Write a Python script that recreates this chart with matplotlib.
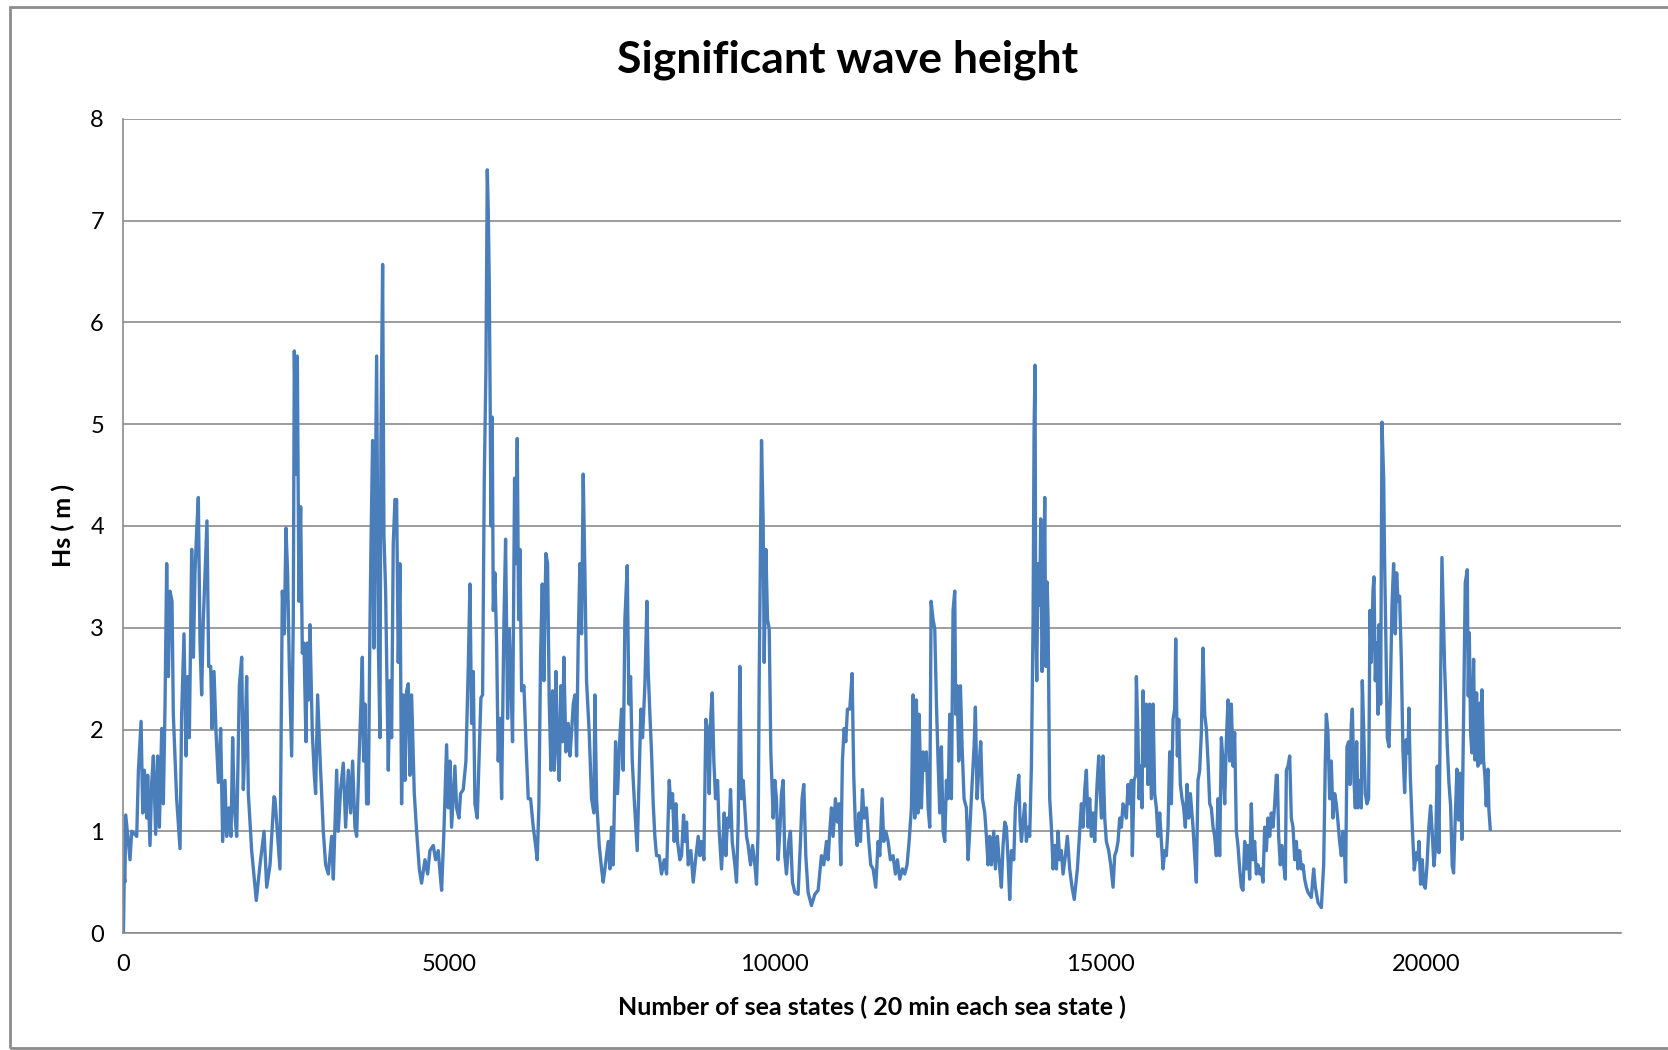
import matplotlib
matplotlib.use("Agg")
import matplotlib.pyplot as plt
from matplotlib.patches import Rectangle

plt.rcParams['font.family'] = ['Lato', 'DejaVu Sans']

# sea state index and significant wave height
x_pts = [
    0, 12, 22, 35, 101, 127, 204, 230, 271, 296, 321, 357, 372, 408, 434, 460, 495, 526, 552, 588,
    613, 639, 664, 690, 715, 746, 766, 817, 869, 894, 930, 961, 987, 1012, 1048, 1074, 1099, 1125, 1150, 1176,
    1201, 1227, 1258, 1283, 1309, 1340, 1360, 1391, 1422, 1458, 1493, 1524, 1560, 1585, 1621, 1652, 1677, 1703, 1739, 1780,
    1816, 1841, 1867, 1892, 1918, 1969, 2040, 2097, 2159, 2200, 2251, 2312,
    2327, 2404, 2440, 2470, 2496, 2521, 2547, 2583, 2608, 2624, 2649, 2670, 2695, 2721, 2747, 2772, 2803, 2823, 2839, 2864,
    2900, 2931, 2951, 2982, 3018, 3069, 3105, 3146, 3197, 3223, 3274, 3299, 3335, 3376, 3412, 3453, 3489, 3519, 3555, 3581,
    3617, 3647, 3668, 3688, 3709, 3734, 3760, 3785, 3801, 3826, 3847, 3862, 3888, 3914, 3939, 3954, 3980, 4000, 4026, 4067,
    4092, 4118, 4143, 4169, 4195, 4220, 4246, 4271, 4297, 4323, 4348, 4374, 4399, 4425, 4466, 4502, 4543, 4578, 4630, 4671,
    4706, 4758, 4793, 4834, 4870,
    4886, 4921, 4962, 4988, 5014, 5039, 5090, 5116, 5152, 5177, 5218, 5259, 5295, 5321, 5346, 5372, 5397, 5433, 5464, 5489,
    5515, 5541, 5566, 5587, 5602, 5617, 5633, 5643, 5663, 5679, 5704, 5730, 5755, 5781, 5807, 5842, 5868, 5899, 5924, 5950,
    5975, 6006, 6027, 6047, 6068, 6088, 6114, 6150, 6180, 6216, 6252, 6293, 6329, 6354, 6380, 6405, 6431, 6456, 6487, 6513,
    6538, 6564, 6590, 6615, 6641, 6666, 6692, 6717, 6743, 6763, 6794, 6830, 6856, 6881, 6907, 6932, 6958, 6984, 7009, 7035,
    7060, 7086, 7111, 7152, 7188, 7224, 7239, 7265, 7306, 7342, 7367,
    7393, 7444, 7470, 7495, 7521, 7557, 7587, 7623, 7649, 7674, 7700, 7736, 7761, 7787, 7813, 7843, 7889, 7920, 7946, 7971,
    8007, 8038, 8058, 8084, 8109, 8135, 8160, 8186, 8227, 8263, 8304, 8340, 8381, 8406, 8432, 8457, 8483, 8508, 8544, 8570,
    8601, 8621, 8647, 8672, 8713, 8749, 8785, 8826, 8851, 8877, 8913, 8943, 8969, 8995, 9020, 9041, 9066, 9092, 9123, 9148,
    9184, 9210, 9225, 9250, 9276, 9302, 9322, 9348, 9389, 9414, 9440, 9465, 9491, 9516, 9542, 9568, 9593, 9629, 9660, 9696,
    9721, 9747, 9762, 9783, 9798, 9823, 9839, 9865, 9890, 9916, 9941, 9977,
    10002, 10027, 10053, 10079, 10104, 10130, 10155, 10181, 10217, 10242, 10273, 10309, 10360, 10396, 10421, 10447, 10478, 10513, 10565, 10616,
    10667, 10718, 10754, 10795, 10820, 10846, 10872, 10897, 10933, 10964, 10989, 11015, 11040, 11066, 11092, 11117, 11153, 11189, 11214, 11240,
    11266, 11296, 11317, 11348, 11373, 11409, 11445, 11475, 11511, 11552, 11588, 11614, 11649, 11675, 11706, 11742, 11777, 11818, 11854, 11885,
    11921, 11962, 11997, 12033, 12064, 12100, 12125, 12151, 12176, 12202, 12217, 12253, 12279, 12304, 12330, 12356, 12381, 12402, 12432,
    12458, 12484, 12509, 12535, 12560, 12586, 12612, 12637, 12663, 12688, 12714, 12739, 12765, 12780, 12801, 12826, 12852, 12878, 12908, 12944,
    12970, 12995, 13031, 13062, 13082, 13108, 13133, 13164, 13190, 13226, 13251, 13277, 13302, 13328, 13364, 13389, 13420, 13456, 13481, 13507,
    13533, 13558, 13584, 13609, 13635, 13671, 13696, 13722, 13748, 13768, 13789, 13814, 13840, 13865, 13891, 13916, 13942, 13968, 13983, 13998,
    14008, 14024, 14044, 14070, 14085, 14106, 14131, 14147, 14162, 14183, 14198, 14223, 14249, 14275, 14300, 14326, 14351, 14377, 14402, 14428,
    14464, 14494, 14530, 14566, 14600, 14648, 14684, 14710, 14735, 14761, 14786, 14812, 14837, 14863, 14889, 14914, 14950, 14976,
    15017, 15042, 15068, 15093, 15129, 15160, 15196, 15221, 15247, 15272, 15298, 15324, 15349, 15375, 15400, 15426, 15451, 15477, 15492, 15518,
    15544, 15554, 15579, 15595, 15615, 15641, 15656, 15682, 15707, 15733, 15758, 15784, 15810, 15835, 15861, 15886, 15912, 15938, 15963, 15989,
    16014, 16040, 16066, 16091, 16117, 16142, 16158, 16183, 16204, 16229, 16255, 16280, 16306, 16332, 16357, 16383, 16424, 16449, 16475, 16500,
    16526, 16552, 16577, 16603, 16628, 16654, 16680, 16705, 16731, 16756, 16782, 16808, 16833, 16859, 16884, 16910, 16935, 16961, 16987, 17012,
    17038, 17063, 17089, 17114, 17140, 17166, 17191, 17217, 17242, 17268, 17293, 17319, 17345, 17370, 17396, 17421, 17447, 17472, 17498,
    17524, 17550, 17575, 17601, 17626, 17652, 17678, 17703, 17718, 17739, 17764, 17790, 17816, 17841, 17857, 17882, 17908, 17933, 17959, 17985,
    18010, 18036, 18061, 18087, 18112, 18138, 18164, 18189, 18240, 18276, 18302, 18343, 18394, 18430, 18455, 18471, 18496, 18522, 18547, 18573,
    18599, 18624, 18650, 18675, 18701, 18726, 18752, 18767, 18788, 18813, 18834, 18854, 18870, 18895, 18916, 18936, 18957, 18982, 19008, 19023,
    19044, 19069, 19095, 19120, 19141, 19161, 19187, 19202, 19223, 19243, 19264, 19279, 19305, 19325, 19351, 19366, 19387, 19407, 19433, 19453,
    19479, 19504, 19530, 19550, 19571,
    19596, 19622, 19647, 19673, 19698, 19724, 19739, 19760, 19790, 19821, 19852, 19877, 19893, 19918, 19944, 19964, 19990, 20016, 20046, 20072,
    20097, 20123, 20149, 20174, 20200, 20220, 20246, 20266, 20287, 20307, 20328, 20353, 20379, 20404, 20425, 20451, 20476, 20502, 20527, 20553,
    20578, 20604, 20635, 20650, 20666, 20686, 20706, 20732, 20752, 20778, 20798, 20824, 20839, 20860, 20885, 20906, 20926, 20952, 20967, 20988,
]

hs_pts = [
    0.0, 0.55, 0.5, 1.16, 0.72, 1.0, 0.95, 1.6, 2.08, 1.18, 1.6, 1.13, 1.55, 0.86, 1.48, 1.74, 0.97, 1.74, 1.04, 2.01,
    1.27, 2.25, 3.63, 2.52, 3.36, 3.26, 2.15, 1.32, 0.83, 2.15, 2.94, 1.74, 2.52, 1.92, 3.77, 2.71, 3.54, 3.96, 4.28, 2.85,
    2.34, 3.08, 3.63, 4.05, 2.62, 2.62, 2.01, 2.57, 1.97, 1.48, 2.01, 0.90, 1.50, 0.95, 1.23, 0.95, 1.92, 1.23, 0.95, 2.43,
    2.71, 1.41, 1.88, 2.52, 1.37, 0.81, 0.32, 0.67, 1.0, 0.45, 0.67, 1.34,
    1.32, 0.63, 3.36, 2.94, 3.98, 3.54, 2.62, 1.74, 3.08, 5.72, 4.51, 5.67, 3.26, 4.19, 2.75, 2.85, 1.88, 2.85, 2.29, 3.03,
    1.97, 1.55, 1.37, 2.34, 1.74, 1.0, 0.67, 0.58, 0.95, 0.53, 1.6, 1.0, 1.41, 1.67, 1.04, 1.6, 1.18, 1.69, 1.04, 0.95,
    1.69, 2.25, 2.71, 1.69, 2.25, 1.27, 1.27, 2.99, 3.8, 4.84, 2.80, 3.82, 5.67, 2.85, 1.92, 4.86, 6.57, 3.91, 3.36, 1.6,
    2.48, 1.92, 3.82, 4.26, 4.26, 2.66, 3.63, 1.27, 2.34, 1.5, 2.38, 2.45, 1.55, 2.34, 1.37, 1.0, 0.63, 0.49, 0.72, 0.58,
    0.81, 0.86, 0.72, 0.81, 0.53,
    0.42, 1.0, 1.85, 1.23, 1.69, 1.04, 1.64, 1.23, 1.13, 1.37, 1.41, 1.69, 2.62, 3.43, 2.06, 2.57, 1.27, 1.13, 1.78, 2.31,
    2.34, 4.47, 5.53, 7.5, 7.1, 6.41, 5.07, 4.0, 5.07, 3.17, 3.54, 2.85, 1.69, 2.11, 1.32, 3.03, 3.87, 2.11, 2.99, 2.48,
    1.88, 4.47, 3.63, 4.86, 3.08, 3.77, 2.38, 2.43, 1.88, 1.32, 1.32, 1.04, 0.86, 0.72, 1.27, 2.71, 3.43, 2.48, 3.73, 3.63,
    2.29, 1.6, 2.38, 1.6, 2.57, 1.83, 1.5, 2.43, 1.88, 2.71, 1.78, 2.06, 1.74, 1.97, 2.25, 2.34, 1.74, 2.89, 3.63, 2.94,
    4.51, 3.54, 2.48, 1.97, 1.32, 1.18, 2.34, 1.32, 0.86, 0.63, 0.5,
    0.63, 0.9, 0.63, 1.04, 0.67, 1.88, 1.37, 1.92, 2.2, 1.6, 3.08, 3.61, 2.25, 2.52, 1.69, 1.32, 0.81, 1.55, 2.2, 1.92,
    2.43, 3.26, 2.57, 2.15, 1.78, 1.27, 0.95, 0.76, 0.76, 0.58, 0.72, 0.58, 1.5, 1.23, 1.37, 0.9, 1.27, 0.9, 0.72, 0.76,
    1.16, 0.9, 1.09, 0.67, 0.81, 0.5, 0.72, 0.95, 0.76, 0.9, 0.72, 2.1, 2.01, 1.37, 2.15, 2.36, 1.69, 1.32, 1.5, 1.0,
    0.63, 0.95, 1.18, 0.76, 1.13, 1.04, 1.41, 0.9, 0.67, 0.5, 1.09, 2.62, 1.32, 1.5, 1.23, 0.95, 0.86, 0.67, 0.86, 0.67,
    0.48, 1.04, 2.48, 3.87, 4.84, 4.05, 2.66, 3.77, 3.08, 2.99, 1.78, 1.13,
    1.5, 1.32, 0.72, 1.0, 1.37, 1.5, 0.76, 0.58, 0.9, 1.0, 0.5, 0.4, 0.38, 0.9, 1.32, 1.46, 0.76, 0.4, 0.27, 0.38,
    0.42, 0.76, 0.67, 0.9, 0.72, 1.0, 1.23, 0.95, 1.32, 1.09, 1.27, 0.67, 1.69, 2.01, 1.88, 2.2, 2.2, 2.55, 1.55, 1.04,
    0.86, 1.18, 0.9, 1.41, 1.13, 1.23, 0.9, 0.67, 0.63, 0.45, 0.9, 0.76, 1.32, 0.9, 1.0, 0.9, 0.72, 0.76, 0.58, 0.72,
    0.53, 0.63, 0.58, 0.67, 0.9, 1.23, 2.34, 1.13, 2.29, 1.18, 2.15, 1.23, 1.78, 1.6, 1.78, 1.23, 1.04, 3.26, 3.08,
    2.99, 2.25, 1.69, 1.18, 1.83, 1.0, 0.9, 1.5, 1.32, 2.15, 1.32, 3.17, 3.36, 2.15, 2.43, 1.69, 2.43, 1.83, 1.32, 1.23,
    0.72, 1.0, 1.46, 1.83, 2.22, 1.32, 1.6, 1.88, 1.32, 1.18, 0.95, 0.67, 0.95, 0.67, 1.0, 0.63, 0.95, 0.63, 0.45, 0.86,
    1.09, 1.04, 0.72, 0.33, 0.81, 0.72, 1.23, 1.41, 1.55, 1.09, 0.9, 1.09, 1.27, 0.9, 1.04, 0.95, 1.64, 3.08, 4.93, 5.58,
    3.08, 2.48, 3.63, 3.22, 4.07, 2.57, 3.36, 4.28, 2.62, 3.45, 3.08, 1.32, 1.04, 0.63, 0.86, 0.63, 1.0, 0.72, 0.81, 0.58,
    0.76, 0.95, 0.63, 0.45, 0.33, 0.63, 1.0, 1.27, 1.04, 1.41, 1.6, 1.04, 1.32, 0.95, 1.18, 0.9, 1.46, 1.74,
    1.13, 1.74, 1.13, 0.9, 0.81, 0.67, 0.45, 0.76, 0.81, 0.9, 1.13, 1.04, 1.27, 1.23, 1.13, 1.46, 1.27, 1.5, 0.76, 1.5,
    1.55, 2.52, 1.92, 1.32, 1.64, 1.23, 2.38, 1.64, 2.25, 1.46, 2.25, 1.32, 2.25, 1.37, 1.23, 0.95, 1.18, 0.9, 0.63, 0.81,
    0.76, 1.04, 1.78, 1.27, 2.1, 2.2, 2.89, 1.74, 2.1, 1.46, 1.32, 1.23, 1.04, 1.46, 1.13, 1.37, 1.04, 0.76, 0.5, 1.5,
    1.6, 1.97, 2.8, 2.15, 2.01, 1.69, 1.27, 1.23, 1.04, 0.95, 0.76, 1.32, 0.76, 1.92, 1.69, 1.27, 1.88, 2.29, 1.69, 2.25,
    1.64, 1.97, 1.0, 0.86, 0.63, 0.45, 0.42, 0.9, 0.63, 0.86, 0.53, 1.27, 0.72, 0.9, 0.58, 0.67, 0.58, 0.63, 0.5,
    1.04, 0.81, 1.13, 0.95, 1.18, 1.04, 1.27, 1.55, 1.55, 0.95, 0.67, 0.86, 0.67, 0.53, 1.6, 1.64, 1.74, 1.13, 1.04, 0.72,
    0.9, 0.63, 0.81, 0.63, 0.67, 0.53, 0.45, 0.4, 0.35, 0.63, 0.45, 0.3, 0.25, 0.67, 1.69, 2.15, 1.97, 1.32, 1.69, 1.13,
    1.37, 1.27, 1.09, 0.9, 0.76, 1.0, 0.76, 0.5, 1.83, 1.88, 1.46, 2.06, 2.2, 1.5, 1.23, 1.88, 1.23, 1.5, 1.23, 2.48,
    2.01, 1.37, 1.27, 1.32, 3.17, 2.66, 3.36, 3.5, 2.48, 2.85, 2.15, 3.03, 2.25, 5.02, 4.47, 3.63, 2.80, 1.92, 1.83, 2.34,
    3.22, 3.63, 2.94, 3.54, 3.26,
    3.31, 2.69, 1.80, 1.38, 1.90, 1.77, 2.21, 1.54, 1.05, 0.62, 0.79, 0.72, 0.9, 0.48, 0.72, 0.48, 0.44, 0.66, 1.05, 1.25,
    0.98, 0.66, 0.85, 1.64, 0.79, 2.13, 3.69, 3.18, 2.62, 2.23, 1.84, 1.48, 1.25, 0.66, 0.59, 1.15, 1.61, 1.11, 1.57, 0.92,
    2.10, 3.44, 3.57, 2.33, 2.95, 1.97, 1.77, 2.69, 1.70, 2.36, 1.64, 2.26, 1.67, 2.39, 1.70, 1.54, 1.25, 1.61, 1.21, 1.02,
]

x_ticks = [0, 5000, 10000, 15000, 20000]
y_ticks = [0, 1, 2, 3, 4, 5, 6, 7, 8]

fig = plt.figure(figsize=(16.68, 10.5), dpi=100)
ax = fig.add_axes([0.074, 0.1114, 0.898, 0.7753])

ax.plot(x_pts, hs_pts, color='#4A7EBB', lw=2.4)

ax.set_xlim(0, 23000)
ax.set_ylim(0, 8)
ax.set_xticks(x_ticks)
ax.set_yticks(y_ticks)
ax.tick_params(length=0, labelsize=17, pad=14, colors='#000000')
ax.tick_params(axis='x', pad=15)
ax.yaxis.grid(True, color='#8c8c8c', lw=1.2)
ax.set_axisbelow(True)

for side in ['top', 'right']:
    ax.spines[side].set_visible(False)
for side in ['left', 'bottom']:
    ax.spines[side].set_color('#8c8c8c')
    ax.spines[side].set_linewidth(1.2)

ax.set_xlabel('Number of sea states ( 20 min each sea state )', fontsize=18,
              fontweight='bold', labelpad=15)
ax.set_ylabel('Hs ( m )', fontsize=18, fontweight='bold', labelpad=11)

fig.text(0.508, 0.943, 'Significant wave height', fontsize=32,
         fontweight='bold', ha='center', va='center')

# outer chart frame
fig.patches.append(Rectangle((10 / 1668, 2 / 1050), 1.2, 1041 / 1050,
                             transform=fig.transFigure, fill=False,
                             edgecolor='#8c8c8c', lw=2, clip_on=False))

fig.savefig('out.png', dpi=100)
